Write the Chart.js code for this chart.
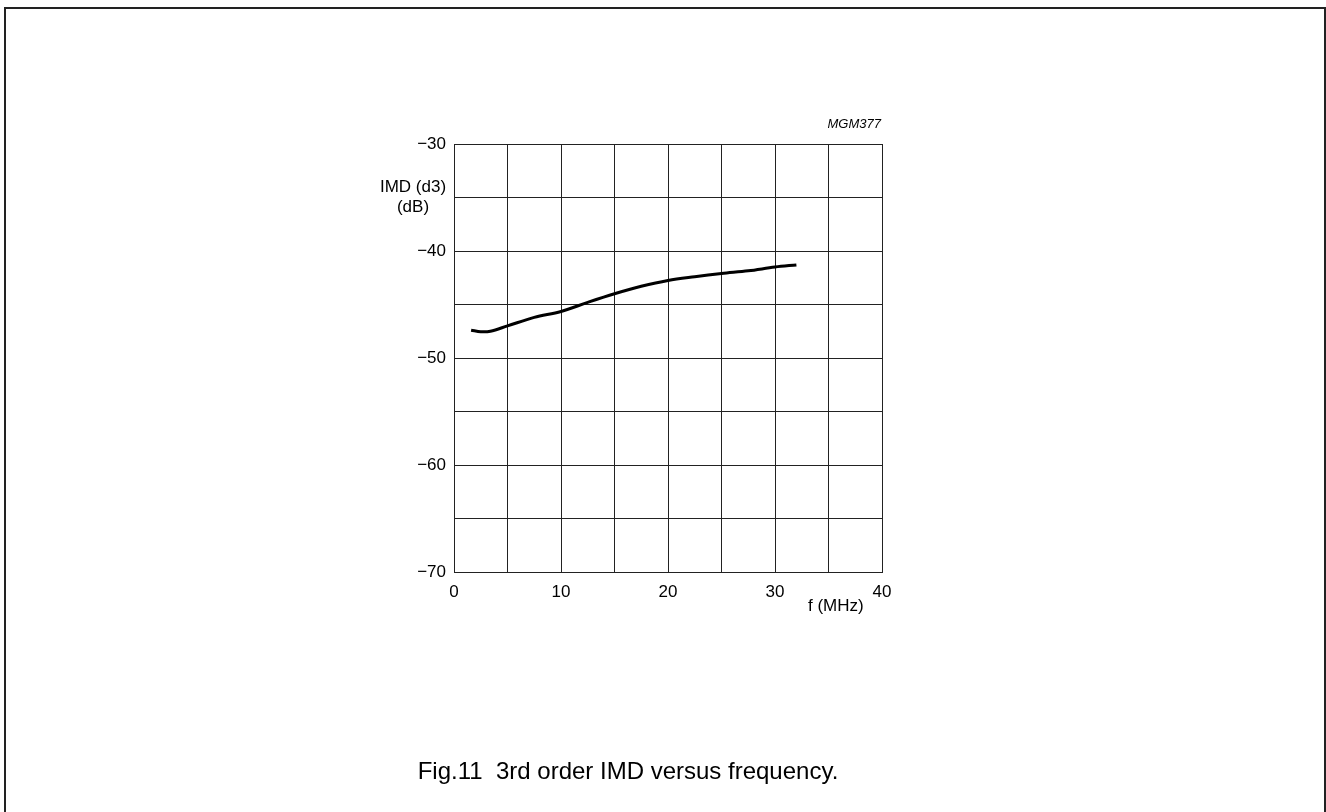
<!DOCTYPE html>
<html lang="en">
<head>
  <meta charset="UTF-8">
  <title>Fig.11 3rd order IMD versus frequency</title>
  <script src="https://cdn.jsdelivr.net/npm/chart.js"></script>
  <style>
    body { margin: 0; background: #fff; font-family: "Liberation Sans", Arial, sans-serif; }
    #wrap { position: relative; width: 1326px; height: 812px; overflow: hidden; }
    #frame { position: absolute; left: 4px; top: 7px; width: 1318px; height: 900px; border: 2px solid #222; }
    canvas { position: absolute; left: 0; top: 0; }
    .lbl { position: absolute; color: #000; font-size: 17px; white-space: nowrap; }
    #code { font-style: italic; font-size: 13px; right: 445px; top: 116px; }
    #ylab { left: 373px; top: 177px; width: 80px; text-align: center; line-height: 20px; }
    #xlab { left: 808px; top: 596px; }
    #caption { left: 0; width: 1256px; text-align: center; top: 757px; font-size: 24px; }
  </style>
</head>
<body>
<div id="wrap">
  <div id="frame"></div>
  <canvas id="imdChart" width="1326" height="812"></canvas>
  <div class="lbl" id="code">MGM377</div>
  <div class="lbl" id="ylab">IMD (d3)<br>(dB)</div>
  <div class="lbl" id="xlab">f (MHz)</div>
  <div class="lbl" id="caption">Fig.11&nbsp;&nbsp;3rd order IMD versus frequency.</div>
</div>

<script>
// waarden
const freqMHz = [1.6, 2.5, 3.4, 5, 7.5, 10, 12.5, 15, 17.5, 20, 22.5, 25, 27.5, 30, 32];
const imdDb = [-47.4, -47.55, -47.5, -47.0, -46.2, -45.65, -44.8, -44.0, -43.3, -42.75, -42.4, -42.1, -41.85, -41.5, -41.3];
const xTicks = [0, 10, 20, 30, 40];
const yTicks = [-30, -40, -50, -60, -70];

const fnt = { family: '"Liberation Sans", Arial, sans-serif', size: 17 };
const minus = v => (v < 0 ? '\u2212' + Math.abs(v) : String(v));

new Chart(document.getElementById('imdChart'), {
  type: 'line',
  data: {
    datasets: [{
      data: freqMHz.map((f, i) => ({ x: f, y: imdDb[i] })),
      borderColor: '#000',
      borderWidth: 3,
      pointRadius: 0,
      tension: 0.35,
      fill: false
    }]
  },
  options: {
    responsive: false,
    animation: false,
    events: [],
    layout: { padding: { left: 394, right: 444, top: 144, bottom: 200 } },
    plugins: { legend: { display: false }, tooltip: { enabled: false } },
    scales: {
      x: {
        type: 'linear', min: 0, max: 40,
        afterFit: s => { s.height = 40; },
        grid: { color: '#222', lineWidth: 1, drawTicks: false },
        border: { color: '#222', width: 1 },
        ticks: {
          stepSize: 5, padding: 10, color: '#000', font: fnt, maxRotation: 0,
          callback: v => (xTicks.includes(v) ? minus(v) : '')
        }
      },
      y: {
        type: 'linear', min: -70, max: -30,
        afterFit: s => { s.width = 60; },
        grid: { color: '#222', lineWidth: 1, drawTicks: false },
        border: { color: '#222', width: 1 },
        ticks: {
          stepSize: 5, padding: 8, color: '#000', font: fnt,
          callback: v => (yTicks.includes(v) ? minus(v) : '')
        }
      }
    }
  }
});
</script>
</body>
</html>
